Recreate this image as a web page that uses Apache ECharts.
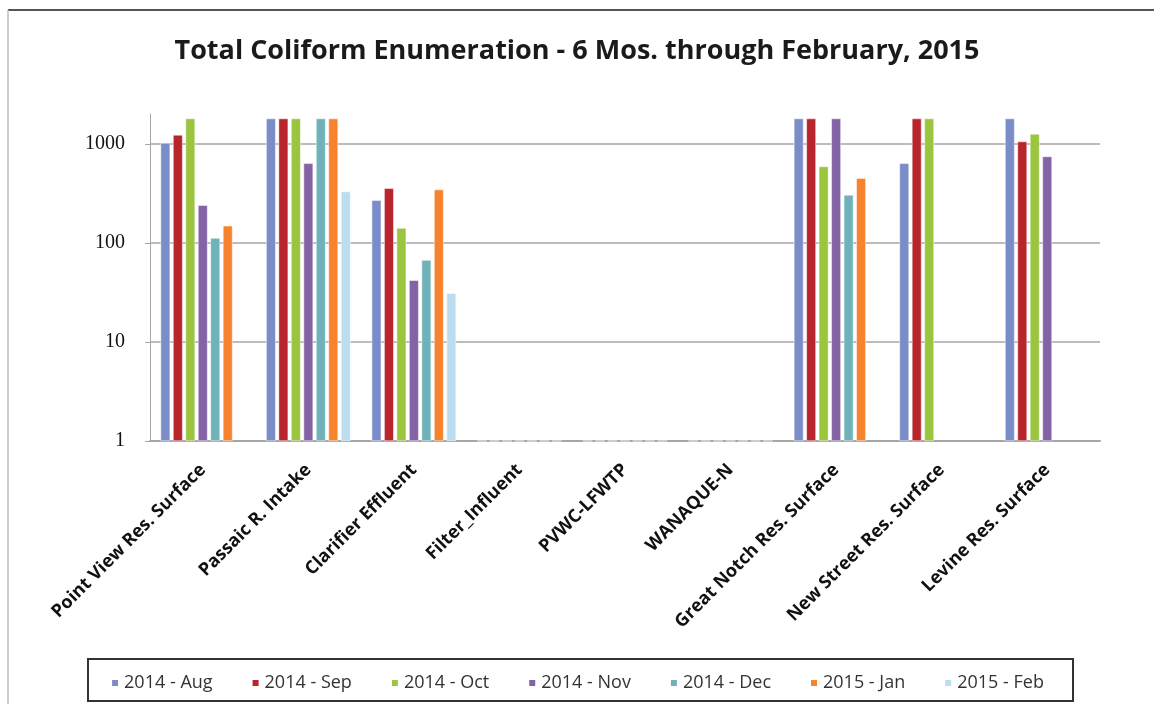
<!DOCTYPE html>
<html>
<head>
<meta charset="utf-8">
<script src="https://cdn.jsdelivr.net/npm/echarts@6/dist/echarts.min.js"></script>
<style>
  html, body { margin: 0; padding: 0; background: #fff; }
  #chart { width: 1154px; height: 704px; }
</style>
</head>
<body>
<div id="chart"></div>
<script>
// sites sampled
var sites = ['Point View Res. Surface', 'Passaic R. Intake', 'Clarifier Effluent', 'Filter_Influent',
  'PVWC-LFWTP', 'WANAQUE-N', 'Great Notch Res. Surface', 'New Street Res. Surface', 'Levine Res. Surface']
var months = ['2014 - Aug', '2014 - Sep', '2014 - Oct', '2014 - Nov', '2014 - Dec', '2015 - Jan', '2015 - Feb']

// counts per month, read off the log scale (null = no sample)
var aug = [1020, 1800, 270, 1, 1, 1, 1800, 635, 1800]
var sep = [1230, 1800, 355, 1, 1, 1, 1800, 1800, 1055]
var oct = [1800, 1800, 141, 1, 1, 1, 590, 1800, 1260]
var nov = [240, 635, 42, 1, 1, 1, 1800, null, 745]
var dec = [112, 1800, 67, 1, 1, 1, 305, null, null]
var jan = [149, 1800, 345, 1, 1, 1, 450, null, null]
var feb = [null, 330, 31, 1, 1, 1, null, null, null]

var colors = ['#7b8dc8', '#b8252c', '#9bc43f', '#8462a6', '#6fb2b9', '#f7832f', '#bcdcf0']
var seriesData = [aug, sep, oct, nov, dec, jan, feb]

var chart = echarts.init(document.getElementById('chart'))

chart.setOption({
  color: colors,
  animation: false,
  title: {
    text: 'Total Coliform Enumeration - 6 Mos. through February, 2015',
    left: 'center',
    top: 33,
    textStyle: {
      fontFamily: 'Open Sans',
      fontWeight: 'bold',
      fontSize: 27,
      color: '#1a1a1a'
    }
  },
  legend: {
    data: months,
    left: 'center',
    top: 669,
    itemWidth: 8,
    itemHeight: 8,
    itemGap: 38,
    icon: 'rect',
    textStyle: {
      fontFamily: 'Open Sans',
      fontSize: 18,
      color: '#333'
    }
  },
  grid: {
    left: 150,
    right: 54,
    top: 114,
    bottom: 263
  },
  xAxis: {
    type: 'category',
    data: sites,
    axisTick: { show: false },
    axisLine: { lineStyle: { color: '#a6a6a6', width: 2 } },
    axisLabel: {
      rotate: 45,
      interval: 0,
      margin: 26,
      fontFamily: 'Open Sans',
      fontWeight: 'bold',
      fontSize: 18,
      color: '#111'
    }
  },
  yAxis: {
    type: 'log',
    logBase: 10,
    min: 1,
    max: 2000,
    axisLine: { show: true, lineStyle: { color: '#a6a6a6' } },
    axisTick: { show: true, length: 5, lineStyle: { color: '#a6a6a6' } },
    splitLine: { showMaxLine: false, lineStyle: { color: '#a6a6a6', width: 1.5 } },
    axisLabel: {
      margin: 25,
      showMaxLabel: false,
      fontFamily: 'Liberation Serif',
      fontSize: 20,
      color: '#111',
      formatter: function (v) { return String(Math.round(v)) }
    }
  },
  series: seriesData.map(function (d, i) {
    return {
      name: months[i],
      type: 'bar',
      data: d,
      barGap: '30%',
      barCategoryGap: '20%',
      itemStyle: {
        borderColor: '#fff',
        borderWidth: 0.5
      }
    }
  }),
  graphic: [
    { type: 'line', shape: { x1: 8, y1: 10, x2: 1154, y2: 10 }, style: { stroke: '#555', lineWidth: 2 } },
    { type: 'line', shape: { x1: 8, y1: 10, x2: 8, y2: 704 }, style: { stroke: '#bbb', lineWidth: 1.5 } },
    { type: 'rect', shape: { x: 88, y: 659, width: 985, height: 42 }, style: { fill: 'none', stroke: '#333', lineWidth: 2 } }
  ]
})
</script>
</body>
</html>
